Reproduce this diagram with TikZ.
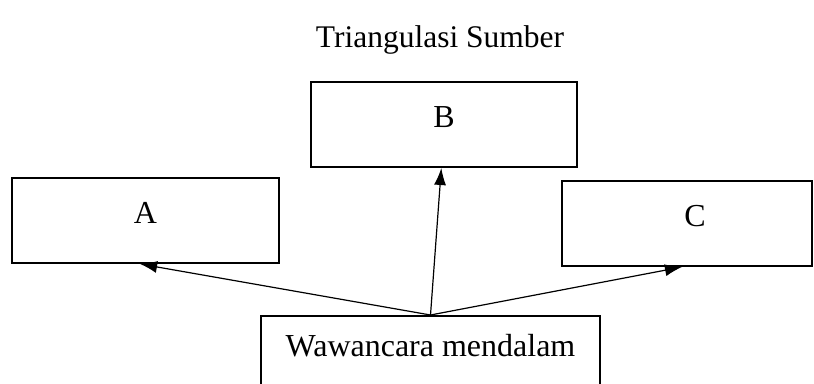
\documentclass[tikz,border=0pt]{standalone}
\usepackage{fontspec}
\setmainfont{Liberation Serif}
\usetikzlibrary{arrows.meta,calc}
\begin{document}
\begin{tikzpicture}[x=1pt,y=-1pt,
  box/.style={draw,line width=2pt,inner sep=0pt,text height=45pt,text depth=40pt,font=\fontsize{32}{38}\selectfont},
  conn/.style={line width=1.2pt,-{Latex[length=17pt,width=12pt]}}]
\useasboundingbox (0,0) rectangle (814,383);
\clip (0,0) rectangle (814,383);
\node[font=\fontsize{31.5}{36}\selectfont] (title) at (440,40) {Triangulasi Sumber};
\node[box,minimum width=266pt,anchor=north] (B) at (444,81) {B};
\node[box,minimum width=267pt,anchor=north] (A) at (145.5,177) {A};
\node[box,minimum width=250pt,anchor=north] (C) at (687,180) {\hspace{16pt}C};
\node[box,minimum width=339pt,anchor=north,text height=40pt,text depth=50pt] (W) at (430.5,315) {Wawancara mendalam};
\draw[conn] (W.north) -- ($(A.south west)!0.48!(A.south east)$);
\draw[conn] (W.north) -- ($(B.south west)!0.49!(B.south east)$);
\draw[conn] (W.north) -- ($(C.south west)!0.48!(C.south east)$);
\end{tikzpicture}
\end{document}
